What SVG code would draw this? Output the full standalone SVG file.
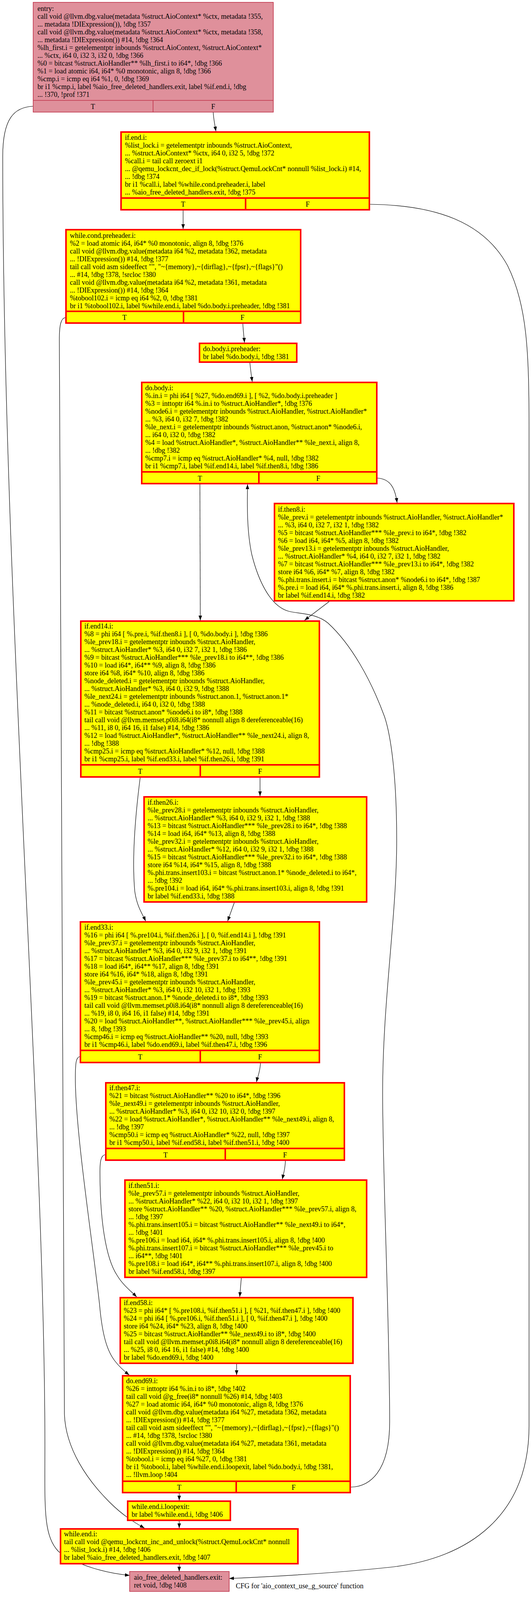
<svg xmlns="http://www.w3.org/2000/svg" width="1360" height="4219" viewBox="0 0 1360 4219" xml:space="preserve">
<defs>
<style>
.y{fill:#ffff00;stroke:#ff0000;stroke-width:4}
.ys{stroke:#ff0000;stroke-width:4;fill:none}
.p{fill:#df909b;stroke:#c0334a;stroke-width:1.6}
.ps{stroke:#c0334a;stroke-width:1.6;fill:none}
text{font-family:"Liberation Serif","Times New Roman",serif;font-size:18px;fill:#000}
.c{text-anchor:middle}
.e{fill:none;stroke:#000;stroke-width:1.2;marker-end:url(#ah)}
</style>
<marker id="ah" markerWidth="12" markerHeight="10" refX="12" refY="5" orient="auto" markerUnits="userSpaceOnUse"><path d="M0,0.6 L12,5 L0,9.4 z" fill="#000"/></marker>
</defs>
<rect width="1360" height="4219" fill="#fff"/>

<g id="edges">
<path class="e" d="M85,272 C35,274 7,305 7,400 C7,1500 115,2900 115,3700 C115,3860 110,3930 150,3972 C200,4008 270,4027 332,4033"/>
<path class="e" d="M546,287 C547,305 550,318 553,336"/>
<path class="e" d="M469,539 L469,586"/>
<path class="e" d="M948,523 C1120,525 1240,570 1300,680 C1350,780 1355,900 1355,1100 L1355,3650 C1355,3880 1200,3990 1000,4012 C850,4028 700,4036 587,4041"/>
<path class="e" d="M167,813 C156,815 152,832 152,870 C152,1500 165,2500 165,3620 C168,3710 225,3790 280,3845 C315,3880 345,3898 370,3912"/>
<path class="e" d="M622,829 C623,850 625,862 626,877"/>
<path class="e" d="M640,929 C642,950 644,962 646,977"/>
<path class="e" d="M967,1224 C1000,1226 1012,1250 1017,1287"/>
<path class="e" d="M512,1240 L513,1588"/>
<path class="e" d="M843,1540 L780,1588"/>
<path class="e" d="M899,3807 C945,3806 998,3770 998,3640 C998,3400 980,3000 980,2800 C980,2560 1016,2350 1016,2150 C1016,1980 1000,1880 985,1835 C950,1740 900,1650 840,1595 C810,1570 770,1572 740,1565 C690,1552 660,1480 645,1420 C632,1360 633,1290 634,1240"/>
<path class="e" d="M359,1991 C345,2100 338,2200 345,2280 C350,2320 365,2340 373,2358"/>
<path class="e" d="M666,1991 L666,2038"/>
<path class="e" d="M600,2311 L583,2358"/>
<path class="e" d="M204,2705 C195,2707 193,2720 193,2760 C193,2900 240,3200 255,3340 C262,3420 275,3460 295,3485 C305,3498 318,3510 331,3520"/>
<path class="e" d="M667,2722 C666,2745 660,2755 657,2770"/>
<path class="e" d="M269,2956 C258,2958 256,2975 256,3000 C256,3120 270,3220 300,3265 C315,3290 335,3305 350,3320"/>
<path class="e" d="M731,2972 C730,2995 726,3005 723,3019"/>
<path class="e" d="M618,3272 L614,3320"/>
<path class="e" d="M606,3492 L606,3520"/>
<path class="e" d="M459,3823 L459,3841"/>
<path class="e" d="M459,3894 L459,3912"/>
<path class="e" d="M459,4005 L459,4023"/>
</g>

<g id="entry">
<rect class="p" x="85" y="6" width="615" height="281"/>
<path class="ps" d="M85,257 H700 M392,257 V287"/>
<text x="96" y="28">entry:</text>
<text x="96" y="48"> call void @llvm.dbg.value(metadata %struct.AioContext* %ctx, metadata !355,</text>
<text x="96" y="68">... metadata !DIExpression()), !dbg !357</text>
<text x="96" y="88"> call void @llvm.dbg.value(metadata %struct.AioContext* %ctx, metadata !358,</text>
<text x="96" y="108">... metadata !DIExpression()) #14, !dbg !364</text>
<text x="96" y="128"> %lh_first.i = getelementptr inbounds %struct.AioContext, %struct.AioContext*</text>
<text x="96" y="148">... %ctx, i64 0, i32 3, i32 0, !dbg !366</text>
<text x="96" y="168"> %0 = bitcast %struct.AioHandler** %lh_first.i to i64*, !dbg !366</text>
<text x="96" y="188"> %1 = load atomic i64, i64* %0 monotonic, align 8, !dbg !366</text>
<text x="96" y="208"> %cmp.i = icmp eq i64 %1, 0, !dbg !369</text>
<text x="96" y="228"> br i1 %cmp.i, label %aio_free_deleted_handlers.exit, label %if.end.i, !dbg</text>
<text x="96" y="248">... !370, !prof !371</text>
<text class="c" x="238" y="279">T</text>
<text class="c" x="546" y="279">F</text>
</g>

<g id="if.end.i">
<rect class="y" x="310" y="338" width="636" height="199"/>
<path class="ys" d="M310,507 H946 M629,507 V537"/>
<text x="320" y="358">if.end.i:</text>
<text x="320" y="378"> %list_lock.i = getelementptr inbounds %struct.AioContext,</text>
<text x="320" y="398">... %struct.AioContext* %ctx, i64 0, i32 5, !dbg !372</text>
<text x="320" y="418"> %call.i = tail call zeroext i1</text>
<text x="320" y="438">... @qemu_lockcnt_dec_if_lock(%struct.QemuLockCnt* nonnull %list_lock.i) #14,</text>
<text x="320" y="458">... !dbg !374</text>
<text x="320" y="478"> br i1 %call.i, label %while.cond.preheader.i, label</text>
<text x="320" y="498">... %aio_free_deleted_handlers.exit, !dbg !375</text>
<text class="c" x="469" y="529">T</text>
<text class="c" x="788" y="529">F</text>
</g>

<g id="while.cond.preheader.i">
<rect class="y" x="169" y="588" width="601" height="239"/>
<path class="ys" d="M169,797 H770 M470,797 V827"/>
<text x="179" y="609">while.cond.preheader.i:</text>
<text x="179" y="629"> %2 = load atomic i64, i64* %0 monotonic, align 8, !dbg !376</text>
<text x="179" y="649"> call void @llvm.dbg.value(metadata i64 %2, metadata !362, metadata</text>
<text x="179" y="669">... !DIExpression()) #14, !dbg !377</text>
<text x="179" y="689"> tail call void asm sideeffect "", "~{memory},~{dirflag},~{fpsr},~{flags}"()</text>
<text x="179" y="709">... #14, !dbg !378, !srcloc !380</text>
<text x="179" y="729"> call void @llvm.dbg.value(metadata i64 %2, metadata !361, metadata</text>
<text x="179" y="749">... !DIExpression()) #14, !dbg !364</text>
<text x="179" y="769"> %tobool102.i = icmp eq i64 %2, 0, !dbg !381</text>
<text x="179" y="789"> br i1 %tobool102.i, label %while.end.i, label %do.body.i.preheader, !dbg !381</text>
<text class="c" x="319" y="819">T</text>
<text class="c" x="621" y="819">F</text>
</g>

<g id="do.body.i.preheader">
<rect class="y" x="511" y="879" width="249" height="48"/>
<text x="520" y="899">do.body.i.preheader:</text>
<text x="520" y="919"> br label %do.body.i, !dbg !381</text>
</g>

<g id="do.body.i">
<rect class="y" x="363" y="979" width="602" height="259"/>
<path class="ys" d="M363,1208 H965 M663,1208 V1238"/>
<text x="372" y="999">do.body.i:</text>
<text x="372" y="1019"> %.in.i = phi i64 [ %27, %do.end69.i ], [ %2, %do.body.i.preheader ]</text>
<text x="372" y="1039"> %3 = inttoptr i64 %.in.i to %struct.AioHandler*, !dbg !376</text>
<text x="372" y="1059"> %node6.i = getelementptr inbounds %struct.AioHandler, %struct.AioHandler*</text>
<text x="372" y="1079">... %3, i64 0, i32 7, !dbg !382</text>
<text x="372" y="1099"> %le_next.i = getelementptr inbounds %struct.anon, %struct.anon* %node6.i,</text>
<text x="372" y="1119">... i64 0, i32 0, !dbg !382</text>
<text x="372" y="1139"> %4 = load %struct.AioHandler*, %struct.AioHandler** %le_next.i, align 8,</text>
<text x="372" y="1159">... !dbg !382</text>
<text x="372" y="1179"> %cmp7.i = icmp eq %struct.AioHandler* %4, null, !dbg !382</text>
<text x="372" y="1199"> br i1 %cmp7.i, label %if.end14.i, label %if.then8.i, !dbg !386</text>
<text class="c" x="512" y="1231">T</text>
<text class="c" x="815" y="1231">F</text>
</g>

<g id="if.then8.i">
<rect class="y" x="703" y="1289" width="613" height="249"/>
<text x="712" y="1310">if.then8.i:</text>
<text x="712" y="1330"> %le_prev.i = getelementptr inbounds %struct.AioHandler, %struct.AioHandler*</text>
<text x="712" y="1350">... %3, i64 0, i32 7, i32 1, !dbg !382</text>
<text x="712" y="1370"> %5 = bitcast %struct.AioHandler*** %le_prev.i to i64*, !dbg !382</text>
<text x="712" y="1390"> %6 = load i64, i64* %5, align 8, !dbg !382</text>
<text x="712" y="1410"> %le_prev13.i = getelementptr inbounds %struct.AioHandler,</text>
<text x="712" y="1430">... %struct.AioHandler* %4, i64 0, i32 7, i32 1, !dbg !382</text>
<text x="712" y="1450"> %7 = bitcast %struct.AioHandler*** %le_prev13.i to i64*, !dbg !382</text>
<text x="712" y="1470"> store i64 %6, i64* %7, align 8, !dbg !382</text>
<text x="712" y="1490"> %.phi.trans.insert.i = bitcast %struct.anon* %node6.i to i64*, !dbg !387</text>
<text x="712" y="1510"> %.pre.i = load i64, i64* %.phi.trans.insert.i, align 8, !dbg !386</text>
<text x="712" y="1530"> br label %if.end14.i, !dbg !382</text>
</g>

<g id="if.end14.i">
<rect class="y" x="207" y="1590" width="611" height="399"/>
<path class="ys" d="M207,1958 H818 M513,1958 V1989"/>
<text x="216" y="1609">if.end14.i:</text>
<text x="216" y="1629"> %8 = phi i64 [ %.pre.i, %if.then8.i ], [ 0, %do.body.i ], !dbg !386</text>
<text x="216" y="1649"> %le_prev18.i = getelementptr inbounds %struct.AioHandler,</text>
<text x="216" y="1669">... %struct.AioHandler* %3, i64 0, i32 7, i32 1, !dbg !386</text>
<text x="216" y="1689"> %9 = bitcast %struct.AioHandler*** %le_prev18.i to i64**, !dbg !386</text>
<text x="216" y="1709"> %10 = load i64*, i64** %9, align 8, !dbg !386</text>
<text x="216" y="1729"> store i64 %8, i64* %10, align 8, !dbg !386</text>
<text x="216" y="1749"> %node_deleted.i = getelementptr inbounds %struct.AioHandler,</text>
<text x="216" y="1769">... %struct.AioHandler* %3, i64 0, i32 9, !dbg !388</text>
<text x="216" y="1789"> %le_next24.i = getelementptr inbounds %struct.anon.1, %struct.anon.1*</text>
<text x="216" y="1809">... %node_deleted.i, i64 0, i32 0, !dbg !388</text>
<text x="216" y="1829"> %11 = bitcast %struct.anon* %node6.i to i8*, !dbg !388</text>
<text x="216" y="1849"> tail call void @llvm.memset.p0i8.i64(i8* nonnull align 8 dereferenceable(16)</text>
<text x="216" y="1869">... %11, i8 0, i64 16, i1 false) #14, !dbg !386</text>
<text x="216" y="1889"> %12 = load %struct.AioHandler*, %struct.AioHandler** %le_next24.i, align 8,</text>
<text x="216" y="1909">... !dbg !388</text>
<text x="216" y="1929"> %cmp25.i = icmp eq %struct.AioHandler* %12, null, !dbg !388</text>
<text x="216" y="1949"> br i1 %cmp25.i, label %if.end33.i, label %if.then26.i, !dbg !391</text>
<text class="c" x="359" y="1981">T</text>
<text class="c" x="666" y="1981">F</text>
</g>

<g id="if.then26.i">
<rect class="y" x="369" y="2040" width="570" height="269"/>
<text x="378" y="2060">if.then26.i:</text>
<text x="378" y="2080"> %le_prev28.i = getelementptr inbounds %struct.AioHandler,</text>
<text x="378" y="2100">... %struct.AioHandler* %3, i64 0, i32 9, i32 1, !dbg !388</text>
<text x="378" y="2120"> %13 = bitcast %struct.AioHandler*** %le_prev28.i to i64*, !dbg !388</text>
<text x="378" y="2140"> %14 = load i64, i64* %13, align 8, !dbg !388</text>
<text x="378" y="2160"> %le_prev32.i = getelementptr inbounds %struct.AioHandler,</text>
<text x="378" y="2180">... %struct.AioHandler* %12, i64 0, i32 9, i32 1, !dbg !388</text>
<text x="378" y="2200"> %15 = bitcast %struct.AioHandler*** %le_prev32.i to i64*, !dbg !388</text>
<text x="378" y="2220"> store i64 %14, i64* %15, align 8, !dbg !388</text>
<text x="378" y="2240"> %.phi.trans.insert103.i = bitcast %struct.anon.1* %node_deleted.i to i64*,</text>
<text x="378" y="2260">... !dbg !392</text>
<text x="378" y="2280"> %.pre104.i = load i64, i64* %.phi.trans.insert103.i, align 8, !dbg !391</text>
<text x="378" y="2300"> br label %if.end33.i, !dbg !388</text>
</g>

<g id="if.end33.i">
<rect class="y" x="206" y="2360" width="612" height="360"/>
<path class="ys" d="M206,2689 H818 M513,2689 V2720"/>
<text x="216" y="2380">if.end33.i:</text>
<text x="216" y="2400"> %16 = phi i64 [ %.pre104.i, %if.then26.i ], [ 0, %if.end14.i ], !dbg !391</text>
<text x="216" y="2420"> %le_prev37.i = getelementptr inbounds %struct.AioHandler,</text>
<text x="216" y="2440">... %struct.AioHandler* %3, i64 0, i32 9, i32 1, !dbg !391</text>
<text x="216" y="2460"> %17 = bitcast %struct.AioHandler*** %le_prev37.i to i64**, !dbg !391</text>
<text x="216" y="2480"> %18 = load i64*, i64** %17, align 8, !dbg !391</text>
<text x="216" y="2500"> store i64 %16, i64* %18, align 8, !dbg !391</text>
<text x="216" y="2520"> %le_prev45.i = getelementptr inbounds %struct.AioHandler,</text>
<text x="216" y="2540">... %struct.AioHandler* %3, i64 0, i32 10, i32 1, !dbg !393</text>
<text x="216" y="2560"> %19 = bitcast %struct.anon.1* %node_deleted.i to i8*, !dbg !393</text>
<text x="216" y="2580"> tail call void @llvm.memset.p0i8.i64(i8* nonnull align 8 dereferenceable(16)</text>
<text x="216" y="2600">... %19, i8 0, i64 16, i1 false) #14, !dbg !391</text>
<text x="216" y="2620"> %20 = load %struct.AioHandler**, %struct.AioHandler*** %le_prev45.i, align</text>
<text x="216" y="2640">... 8, !dbg !393</text>
<text x="216" y="2660"> %cmp46.i = icmp eq %struct.AioHandler** %20, null, !dbg !393</text>
<text x="216" y="2680"> br i1 %cmp46.i, label %do.end69.i, label %if.then47.i, !dbg !396</text>
<text class="c" x="359" y="2712">T</text>
<text class="c" x="666" y="2712">F</text>
</g>

<g id="if.then47.i">
<rect class="y" x="271" y="2772" width="611" height="198"/>
<path class="ys" d="M271,2940 H882 M577,2940 V2970"/>
<text x="280" y="2791">if.then47.i:</text>
<text x="280" y="2811"> %21 = bitcast %struct.AioHandler** %20 to i64*, !dbg !396</text>
<text x="280" y="2831"> %le_next49.i = getelementptr inbounds %struct.AioHandler,</text>
<text x="280" y="2851">... %struct.AioHandler* %3, i64 0, i32 10, i32 0, !dbg !397</text>
<text x="280" y="2871"> %22 = load %struct.AioHandler*, %struct.AioHandler** %le_next49.i, align 8,</text>
<text x="280" y="2891">... !dbg !397</text>
<text x="280" y="2911"> %cmp50.i = icmp eq %struct.AioHandler* %22, null, !dbg !397</text>
<text x="280" y="2931"> br i1 %cmp50.i, label %if.end58.i, label %if.then51.i, !dbg !400</text>
<text class="c" x="424" y="2963">T</text>
<text class="c" x="730" y="2963">F</text>
</g>

<g id="if.then51.i">
<rect class="y" x="320" y="3021" width="619" height="249"/>
<text x="329" y="3041">if.then51.i:</text>
<text x="329" y="3061"> %le_prev57.i = getelementptr inbounds %struct.AioHandler,</text>
<text x="329" y="3081">... %struct.AioHandler* %22, i64 0, i32 10, i32 1, !dbg !397</text>
<text x="329" y="3101"> store %struct.AioHandler** %20, %struct.AioHandler*** %le_prev57.i, align 8,</text>
<text x="329" y="3121">... !dbg !397</text>
<text x="329" y="3141"> %.phi.trans.insert105.i = bitcast %struct.AioHandler** %le_next49.i to i64*,</text>
<text x="329" y="3161">... !dbg !401</text>
<text x="329" y="3181"> %.pre106.i = load i64, i64* %.phi.trans.insert105.i, align 8, !dbg !400</text>
<text x="329" y="3201"> %.phi.trans.insert107.i = bitcast %struct.AioHandler*** %le_prev45.i to</text>
<text x="329" y="3221">... i64**, !dbg !401</text>
<text x="329" y="3241"> %.pre108.i = load i64*, i64** %.phi.trans.insert107.i, align 8, !dbg !400</text>
<text x="329" y="3261"> br label %if.end58.i, !dbg !397</text>
</g>

<g id="if.end58.i">
<rect class="y" x="308" y="3322" width="596" height="168"/>
<text x="317" y="3341">if.end58.i:</text>
<text x="317" y="3361"> %23 = phi i64* [ %.pre108.i, %if.then51.i ], [ %21, %if.then47.i ], !dbg !400</text>
<text x="317" y="3381"> %24 = phi i64 [ %.pre106.i, %if.then51.i ], [ 0, %if.then47.i ], !dbg !400</text>
<text x="317" y="3401"> store i64 %24, i64* %23, align 8, !dbg !400</text>
<text x="317" y="3421"> %25 = bitcast %struct.AioHandler** %le_next49.i to i8*, !dbg !400</text>
<text x="317" y="3441"> tail call void @llvm.memset.p0i8.i64(i8* nonnull align 8 dereferenceable(16)</text>
<text x="317" y="3461">... %25, i8 0, i64 16, i1 false) #14, !dbg !400</text>
<text x="317" y="3481"> br label %do.end69.i, !dbg !400</text>
</g>

<g id="do.end69.i">
<rect class="y" x="314" y="3522" width="583" height="299"/>
<path class="ys" d="M314,3792 H897 M605,3792 V3821"/>
<text x="323" y="3541">do.end69.i:</text>
<text x="323" y="3561"> %26 = inttoptr i64 %.in.i to i8*, !dbg !402</text>
<text x="323" y="3581"> tail call void @g_free(i8* nonnull %26) #14, !dbg !403</text>
<text x="323" y="3601"> %27 = load atomic i64, i64* %0 monotonic, align 8, !dbg !376</text>
<text x="323" y="3621"> call void @llvm.dbg.value(metadata i64 %27, metadata !362, metadata</text>
<text x="323" y="3641">... !DIExpression()) #14, !dbg !377</text>
<text x="323" y="3661"> tail call void asm sideeffect "", "~{memory},~{dirflag},~{fpsr},~{flags}"()</text>
<text x="323" y="3681">... #14, !dbg !378, !srcloc !380</text>
<text x="323" y="3701"> call void @llvm.dbg.value(metadata i64 %27, metadata !361, metadata</text>
<text x="323" y="3721">... !DIExpression()) #14, !dbg !364</text>
<text x="323" y="3741"> %tobool.i = icmp eq i64 %27, 0, !dbg !381</text>
<text x="323" y="3761"> br i1 %tobool.i, label %while.end.i.loopexit, label %do.body.i, !dbg !381,</text>
<text x="323" y="3781">... !llvm.loop !404</text>
<text class="c" x="459" y="3814">T</text>
<text class="c" x="752" y="3814">F</text>
</g>

<g id="while.end.i.loopexit">
<rect class="y" x="327" y="3843" width="263" height="49"/>
<text x="337" y="3863">while.end.i.loopexit:</text>
<text x="337" y="3883"> br label %while.end.i, !dbg !406</text>
</g>

<g id="while.end.i">
<rect class="y" x="155" y="3914" width="608" height="89"/>
<text x="164" y="3933">while.end.i:</text>
<text x="164" y="3953"> tail call void @qemu_lockcnt_inc_and_unlock(%struct.QemuLockCnt* nonnull</text>
<text x="164" y="3973">... %list_lock.i) #14, !dbg !406</text>
<text x="164" y="3993"> br label %aio_free_deleted_handlers.exit, !dbg !407</text>
</g>

<g id="aio_free_deleted_handlers.exit">
<rect class="p" x="332" y="4023" width="255" height="51"/>
<text x="343" y="4044">aio_free_deleted_handlers.exit:</text>
<text x="343" y="4064"> ret void, !dbg !408</text>
</g>

<text x="604" y="4066">CFG for 'aio_context_use_g_source' function</text>
</svg>
